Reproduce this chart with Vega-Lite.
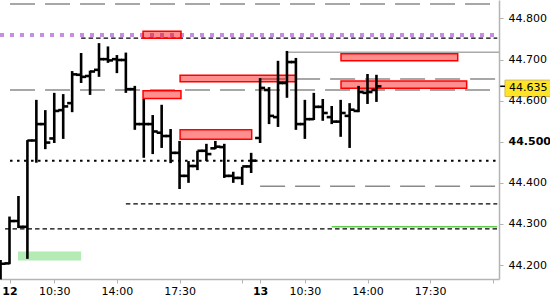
{
  "$schema": "https://vega.github.io/schema/vega-lite/v6.json",
  "width": 499,
  "height": 279,
  "autosize": "none",
  "padding": {"left": 0, "top": 0, "right": 51, "bottom": 21},
  "background": "white",
  "config": {"view": {"stroke": null}, "font": "DejaVu Sans"},
  "datasets": {
    "bars": [
      {"t": -0.5, "o": 44.176, "h": 44.212, "l": 44.165, "c": 44.203},
      {"t": 0, "o": 44.204, "h": 44.318, "l": 44.202, "c": 44.307},
      {"t": 0.5, "o": 44.307, "h": 44.368, "l": 44.290, "c": 44.293},
      {"t": 1, "o": 44.293, "h": 44.504, "l": 44.215, "c": 44.503},
      {"t": 1.5, "o": 44.503, "h": 44.602, "l": 44.449, "c": 44.543},
      {"t": 2, "o": 44.543, "h": 44.577, "l": 44.482, "c": 44.498},
      {"t": 2.5, "o": 44.508, "h": 44.619, "l": 44.497, "c": 44.575},
      {"t": 3, "o": 44.577, "h": 44.616, "l": 44.507, "c": 44.586},
      {"t": 3.5, "o": 44.594, "h": 44.672, "l": 44.572, "c": 44.664},
      {"t": 4, "o": 44.663, "h": 44.716, "l": 44.643, "c": 44.658},
      {"t": 4.5, "o": 44.660, "h": 44.673, "l": 44.614, "c": 44.671},
      {"t": 5, "o": 44.675, "h": 44.740, "l": 44.658, "c": 44.701},
      {"t": 5.5, "o": 44.701, "h": 44.732, "l": 44.692, "c": 44.698},
      {"t": 6, "o": 44.701, "h": 44.711, "l": 44.667, "c": 44.699},
      {"t": 6.5, "o": 44.699, "h": 44.717, "l": 44.619, "c": 44.628},
      {"t": 7, "o": 44.628, "h": 44.636, "l": 44.529, "c": 44.543},
      {"t": 7.5, "o": 44.543, "h": 44.604, "l": 44.461, "c": 44.543},
      {"t": 8, "o": 44.543, "h": 44.565, "l": 44.470, "c": 44.525},
      {"t": 8.5, "o": 44.522, "h": 44.590, "l": 44.485, "c": 44.514},
      {"t": 9, "o": 44.514, "h": 44.531, "l": 44.448, "c": 44.473},
      {"t": 9.5, "o": 44.473, "h": 44.502, "l": 44.385, "c": 44.417},
      {"t": 10, "o": 44.417, "h": 44.453, "l": 44.400, "c": 44.441},
      {"t": 10.5, "o": 44.441, "h": 44.478, "l": 44.431, "c": 44.478},
      {"t": 11, "o": 44.478, "h": 44.495, "l": 44.453, "c": 44.470},
      {"t": 11.5, "o": 44.484, "h": 44.502, "l": 44.482, "c": 44.488},
      {"t": 12, "o": 44.487, "h": 44.495, "l": 44.412, "c": 44.417},
      {"t": 12.5, "o": 44.417, "h": 44.427, "l": 44.400, "c": 44.412},
      {"t": 13, "o": 44.412, "h": 44.439, "l": 44.395, "c": 44.440},
      {"t": 13.5, "o": 44.440, "h": 44.473, "l": 44.424, "c": 44.454},
      {"t": 14, "o": 44.509, "h": 44.655, "l": 44.497, "c": 44.631},
      {"t": 14.5, "o": 44.626, "h": 44.633, "l": 44.543, "c": 44.563},
      {"t": 15, "o": 44.560, "h": 44.697, "l": 44.536, "c": 44.643},
      {"t": 15.5, "o": 44.643, "h": 44.721, "l": 44.607, "c": 44.694},
      {"t": 16, "o": 44.694, "h": 44.704, "l": 44.529, "c": 44.543},
      {"t": 16.5, "o": 44.543, "h": 44.602, "l": 44.507, "c": 44.555},
      {"t": 17, "o": 44.555, "h": 44.619, "l": 44.553, "c": 44.585},
      {"t": 17.5, "o": 44.585, "h": 44.604, "l": 44.551, "c": 44.570},
      {"t": 18, "o": 44.560, "h": 44.587, "l": 44.543, "c": 44.549},
      {"t": 18.5, "o": 44.549, "h": 44.602, "l": 44.512, "c": 44.570},
      {"t": 19, "o": 44.563, "h": 44.594, "l": 44.485, "c": 44.578},
      {"t": 19.5, "o": 44.575, "h": 44.636, "l": 44.572, "c": 44.621},
      {"t": 20, "o": 44.619, "h": 44.665, "l": 44.592, "c": 44.621},
      {"t": 20.5, "o": 44.626, "h": 44.663, "l": 44.597, "c": 44.635}
    ],
    "grayDash": [
      {"t1": 0.03, "t2": 27.2, "p": 44.835},
      {"t1": 0.03, "t2": 27.2, "p": 44.626},
      {"t1": 14, "t2": 27.2, "p": 44.653},
      {"t1": 14, "t2": 27.2, "p": 44.392}
    ],
    "graySolid": [{"t1": 15.5, "t2": 27.346, "p": 44.718}],
    "blackDash": [
      {"t1": 4, "t2": 27.25, "p": 44.752},
      {"t1": 6.5, "t2": 27.25, "p": 44.349},
      {"t1": -0.25, "t2": 27.25, "p": 44.288}
    ],
    "dotted": [{"t1": 0.03, "t2": 27.25, "p": 44.454}],
    "purple": [{"t1": -0.531, "t2": 27.25, "p": 44.76}],
    "greenLine": [{"t1": 18, "t2": 27.25, "p": 44.293}],
    "redZones": [
      {"t1": 7.46, "t2": 9.58, "p1": 44.752, "p2": 44.769},
      {"t1": 7.46, "t2": 9.58, "p1": 44.605, "p2": 44.624},
      {"t1": 9.53, "t2": 16.0, "p1": 44.646, "p2": 44.662},
      {"t1": 9.53, "t2": 13.53, "p1": 44.506, "p2": 44.529},
      {"t1": 18.52, "t2": 25.04, "p1": 44.697, "p2": 44.714},
      {"t1": 18.52, "t2": 25.54, "p1": 44.630, "p2": 44.648}
    ],
    "greenZones": [{"t1": 0.47, "t2": 4.0, "p1": 44.211, "p2": 44.233}],
    "tag": [{"tk": 27.346, "t1": 27.68, "t2": 30.4, "p1": 44.610, "p2": 44.650, "t": 27.9, "p": 44.635, "label": "44.635"}]
  },
  "layer": [
    {
      "data": {"name": "purple"},
      "mark": {"type": "rule", "stroke": "#c58de4", "strokeWidth": 4, "strokeDash": [4, 6]},
      "encoding": {
        "x": {"field": "t1", "type": "quantitative", "title": null, "scale": {"domain": [-0.531, 27.346], "nice": false, "zero": false},
          "axis": {"values": [0, 2.5, 6, 9.5, 13, 14, 16.5, 20, 23.5, 27],
            "labelExpr": "datum.value==0?'12':datum.value==14?'13':(datum.value==2.5||datum.value==16.5)?'10:30':(datum.value==6||datum.value==20)?'14:00':(datum.value==9.5||datum.value==23.5)?'17:30':''",
            "title": null, "grid": false, "domainColor": "#b4b4b4", "domainWidth": 1.5, "tickColor": "#b4b4b4", "tickSize": 4,
            "labelFont": "DejaVu Sans", "labelFontSize": 11, "labelColor": "#000", "labelPadding": 2, "labelOverlap": false, "labelFlush": false,
            "labelFontWeight": {"condition": {"test": "datum.value==0||datum.value==14", "value": "bold"}, "value": "normal"}}},
        "x2": {"field": "t2"},
        "y": {"field": "p", "type": "quantitative", "title": null, "scale": {"domain": [44.166, 44.845], "nice": false, "zero": false},
          "axis": {"orient": "right", "values": [44.2, 44.3, 44.4, 44.5, 44.6, 44.7, 44.8], "format": ".3f", "title": null, "grid": false,
            "domainColor": "#b4b4b4", "domainWidth": 1.5, "tickColor": "#b4b4b4", "tickSize": 4, "labelPadding": 5, "zindex": 1, "labelOverlap": false,
            "labelFont": "DejaVu Sans", "labelFontSize": 11, "labelColor": "#000",
            "labelFontWeight": {"condition": {"test": "abs(datum.value-44.5)<0.001", "value": "bold"}, "value": "normal"}}}
      }
    },
    {
      "data": {"name": "tag"},
      "mark": {"type": "rect", "fill": "#ffe426", "stroke": "#d2b64a", "strokeWidth": 1},
      "encoding": {
        "x": {"field": "t1", "type": "quantitative", "title": null},
        "x2": {"field": "t2"},
        "y": {"field": "p1", "type": "quantitative", "title": null},
        "y2": {"field": "p2"}
      }
    },
    {
      "data": {"name": "tag"},
      "mark": {"type": "rule", "stroke": "#000", "strokeWidth": 1.5},
      "encoding": {
        "x": {"field": "tk", "type": "quantitative", "title": null},
        "x2": {"field": "t1"},
        "y": {"field": "p", "type": "quantitative", "title": null}
      }
    },
    {
      "data": {"name": "tag"},
      "mark": {"type": "text", "align": "left", "baseline": "middle", "font": "DejaVu Sans", "fontSize": 11, "fontWeight": "normal", "color": "#000", "dy": 2},
      "encoding": {
        "x": {"field": "t", "type": "quantitative", "title": null},
        "y": {"field": "p", "type": "quantitative", "title": null},
        "text": {"field": "label"}
      }
    },
    {
      "data": {"name": "grayDash"},
      "mark": {"type": "rule", "stroke": "#8a8a8a", "strokeWidth": 1.5, "strokeDash": [25, 10]},
      "encoding": {
        "x": {"field": "t1", "type": "quantitative", "title": null},
        "x2": {"field": "t2"},
        "y": {"field": "p", "type": "quantitative", "title": null}
      }
    },
    {
      "data": {"name": "graySolid"},
      "mark": {"type": "rule", "stroke": "#aaaaaa", "strokeWidth": 1.5},
      "encoding": {
        "x": {"field": "t1", "type": "quantitative", "title": null},
        "x2": {"field": "t2"},
        "y": {"field": "p", "type": "quantitative", "title": null}
      }
    },
    {
      "data": {"name": "blackDash"},
      "mark": {"type": "rule", "stroke": "#000", "strokeWidth": 1.2, "strokeDash": [4.5, 3]},
      "encoding": {
        "x": {"field": "t1", "type": "quantitative", "title": null},
        "x2": {"field": "t2"},
        "y": {"field": "p", "type": "quantitative", "title": null}
      }
    },
    {
      "data": {"name": "dotted"},
      "mark": {"type": "rule", "stroke": "#000", "strokeWidth": 2, "strokeDash": [2.5, 4.5]},
      "encoding": {
        "x": {"field": "t1", "type": "quantitative", "title": null},
        "x2": {"field": "t2"},
        "y": {"field": "p", "type": "quantitative", "title": null}
      }
    },
    {
      "data": {"name": "greenLine"},
      "mark": {"type": "rule", "stroke": "#5ccc4a", "strokeWidth": 1.5},
      "encoding": {
        "x": {"field": "t1", "type": "quantitative", "title": null},
        "x2": {"field": "t2"},
        "y": {"field": "p", "type": "quantitative", "title": null}
      }
    },
    {
      "data": {"name": "greenZones"},
      "mark": {"type": "rect", "fill": "#b4ebb4", "opacity": 1},
      "encoding": {
        "x": {"field": "t1", "type": "quantitative", "title": null},
        "x2": {"field": "t2"},
        "y": {"field": "p1", "type": "quantitative", "title": null},
        "y2": {"field": "p2"}
      }
    },
    {
      "data": {"name": "redZones"},
      "mark": {"type": "rect", "fill": "#ff0000", "fillOpacity": 0.44, "stroke": "#ff0000", "strokeWidth": 1.5},
      "encoding": {
        "x": {"field": "t1", "type": "quantitative", "title": null},
        "x2": {"field": "t2"},
        "y": {"field": "p1", "type": "quantitative", "title": null},
        "y2": {"field": "p2"}
      }
    },
    {
      "data": {"name": "bars"},
      "mark": {"type": "rule", "stroke": "#000", "strokeWidth": 2.6},
      "encoding": {
        "x": {"field": "t", "type": "quantitative", "title": null},
        "y": {"field": "l", "type": "quantitative", "title": null},
        "y2": {"field": "h"}
      }
    },
    {
      "data": {"name": "bars"},
      "mark": {"type": "tick", "orient": "horizontal", "size": 5, "thickness": 2.6, "xOffset": -2.5, "color": "#000", "opacity": 1},
      "encoding": {
        "x": {"field": "t", "type": "quantitative", "title": null},
        "y": {"field": "o", "type": "quantitative", "title": null}
      }
    },
    {
      "data": {"name": "bars"},
      "mark": {"type": "tick", "orient": "horizontal", "size": 5, "thickness": 2.6, "xOffset": 2.5, "color": "#000", "opacity": 1},
      "encoding": {
        "x": {"field": "t", "type": "quantitative", "title": null},
        "y": {"field": "c", "type": "quantitative", "title": null}
      }
    }
  ]
}
